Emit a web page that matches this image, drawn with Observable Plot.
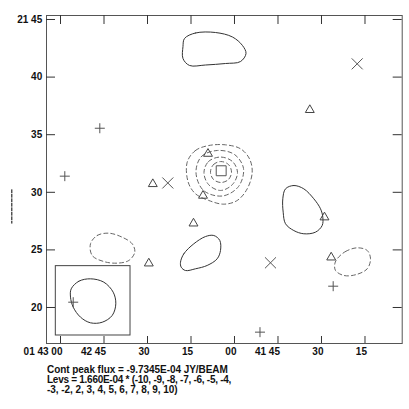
<!DOCTYPE html>
<html>
<head>
<meta charset="utf-8">
<script src="https://cdn.jsdelivr.net/npm/d3@7"></script>
<script src="https://cdn.jsdelivr.net/npm/@observablehq/plot@0.6"></script>
<style>
  html, body { margin: 0; padding: 0; background: #fff; }
  #chart svg { display: block; }
  #caption { font: bold 10px "Liberation Sans", Arial, sans-serif; color: #111; padding-left: 47px; margin-top: 5px; }
  #caption div { height: 10px; line-height: 10px; white-space: pre; }
</style>
</head>
<body>
<div id="chart"></div>
<div id="caption"></div>
<script>
// RA in seconds of time after 01 41 00 ; Dec in arcmin after +21 00
const xTicks = [120, 105, 90, 75, 60, 45, 30, 15];
const xTickLabels = ["01 43 00", "42 45", "30", "15", "00", "41 45", "30", "15"];
const yTicks = [45, 40, 35, 30, 25, 20];
const yTickLabels = ["21 45", "40", "35", "30", "25", "20"];

const plusMarks = [[106.45, 35.56], [118.52, 31.40], [25.97, 21.85], [51.21, 17.86]];
const plusInBeam = [[115.62, 20.46]];
const timesMarks = [[17.69, 41.15], [83.0, 30.81], [47.59, 23.88]];
const triangleMarks = [[34.03, 37.15], [88.17, 30.72], [69.14, 33.35], [70.86, 29.71], [74.14, 27.30], [28.97, 27.83], [26.66, 24.35], [89.55, 23.83]];
const squareMarks = [[64.59, 31.87]];

// positive contours (solid)
const contourTop = [[77.24,43.35],[73.45,43.83],[66.55,43.87],[60.69,43.48],[57.24,42.74],[56.03,42.05],[57.93,41.35],[63.1,41.18],[70,41.05],[75.52,41.01],[77.76,41.61],[77.76,42.66]];
const contourRight = [[42.41,30.30],[39.55,30.59],[36.1,30.30],[32.66,29.44],[30.34,28.57],[29.55,27.84],[29.76,27.12],[32.07,26.54],[36.1,26.4],[39.55,26.68],[42.41,27.27],[43.21,28.27],[43.34,29.44]];
const contourLow = [[78.62,23.93],[77.48,24.66],[74.03,25.53],[70,26.16],[67.14,26.25],[65.07,25.82],[64.83,24.95],[65.97,24.23],[69.41,23.65],[73.45,23.36],[76.9,23.21],[78.38,23.5]];
// negative contours (dashed)
const negLeft = [[109.66,25.53],[107.34,26.25],[103.34,26.45],[98.72,26.10],[95.28,25.53],[94.38,24.80],[96.45,24.08],[100.45,23.85],[105.07,23.99],[109.07,24.51]];
const negRight = [[24.59,24.23],[21.72,24.86],[17.69,25.18],[14.24,24.95],[13.1,24.23],[14.24,23.36],[18.28,22.84],[22.31,22.78],[25.17,23.21],[25.41,23.79]];
const negRing1 = [[76.31,32.61],[73.45,33.63],[68.86,34.06],[63.1,34.12],[57.93,33.78],[54.83,32.91],[53.9,31.74],[55.62,30.30],[59.07,29.29],[63.69,28.97],[68.86,29.29],[73.45,29.87],[75.97,30.88]];
const negRing2 = [[73.28,31.72],[71.38,33.11],[65.86,33.63],[60,33.28],[56.9,32.07],[58.62,30.5],[64.14,29.68],[70.69,30.16]];
const negRing3 = [[70.52,31.72],[68.97,32.67],[64.83,33.06],[60.69,32.67],[58.97,31.72],[60.69,30.68],[64.83,30.16],[68.97,30.68]];
const negRing4 = [[68.28,31.76],[67.24,32.41],[64.66,32.67],[62.07,32.41],[61.03,31.76],[62.07,31.11],[64.66,30.85],[67.24,31.11]];

// beam inset
const beamBox = [[121.62, 95.86, 23.59, 17.57]];
const beamEllipse = [[116.31,21.62],[113.69,22.28],[109.66,22.49],[105.07,22.20],[101.83,21.33],[100.93,20.32],[102.17,19.31],[105.62,18.72],[109.66,18.67],[113.1,19.16],[115.62,20.03],[116.55,20.9]];

// stray dashed segment left of the frame
const strayLine = [[136.79, 30.22], [136.79, 27.32]];

const captionLines = [
  "Cont peak flux = -9.7345E-04 JY/BEAM",
  "Levs = 1.660E-04 * (-10, -9, -8, -7, -6, -5, -4,",
  "-3, -2, 2, 3, 4, 5, 6, 7, 8, 9, 10)"
];
const captionSpacing = ["-0.05px", "-0.27px", "-0.05px"];

const toRows = (pts, id) => pts.map(([x, y]) => ({x, y, id}));
const solidRows = [...toRows(contourTop, "top"), ...toRows(contourRight, "right"), ...toRows(contourLow, "low")];
const dashedRows = [...toRows(negLeft, "nl"), ...toRows(negRight, "nr"), ...toRows(negRing1, "r1"), ...toRows(negRing2, "r2"), ...toRows(negRing3, "r3"), ...toRows(negRing4, "r4")];

const gray = "#555";
const font = "Liberation Sans, Arial, sans-serif";
const W = 409, H = 360, mL = 46, mR = 7.3, mT = 15, mB = 17;
const xDom = [124.83, 2.17], yDom = [16.875, 45.347];
const frameW = W - mL - mR, frameH = H - mT - mB;
const yPerPx = (yDom[1] - yDom[0]) / frameH;
const xPerPx = (xDom[0] - xDom[1]) / frameW;

const pt = (arr) => arr.map(([x, y]) => ({x, y}));

const chart = Plot.plot({
  width: W,
  height: H,
  marginLeft: mL,
  marginRight: mR,
  marginTop: mT,
  marginBottom: mB,
  style: {background: "white", fontFamily: font},
  x: {domain: xDom, axis: null},
  y: {domain: yDom, axis: null},
  marks: [
    Plot.line(dashedRows, {x: "x", y: "y", z: "id", curve: "catmull-rom-closed", stroke: "#666", strokeWidth: 1, strokeDasharray: "4,3"}),
    Plot.line(solidRows, {x: "x", y: "y", z: "id", curve: "catmull-rom-closed", stroke: "#333", strokeWidth: 1}),
    Plot.dot(pt(plusMarks), {x: "x", y: "y", symbol: "plus", r: 3.32, stroke: gray, strokeWidth: 1}),
    Plot.dot(pt(timesMarks), {x: "x", y: "y", symbol: "times", r: 5.07, stroke: gray, strokeWidth: 1}),
    Plot.dot(pt(triangleMarks), {x: "x", y: "y", symbol: "triangle", r: 3.3, stroke: "#444", fill: "none", strokeWidth: 1}),
    Plot.dot(pt(squareMarks), {x: "x", y: "y", symbol: "square", r: 5.6, stroke: gray, fill: "none", strokeWidth: 1}),
    Plot.rect(beamBox, {x1: d => d[0], x2: d => d[1], y1: d => d[2], y2: d => d[3], fill: "white", stroke: "#444", strokeWidth: 1}),
    Plot.line(pt(beamEllipse), {x: "x", y: "y", curve: "catmull-rom-closed", stroke: "#333", strokeWidth: 1}),
    Plot.dot(pt(plusInBeam), {x: "x", y: "y", symbol: "plus", r: 3.32, stroke: gray, strokeWidth: 1}),
    Plot.line(pt(strayLine), {x: "x", y: "y", stroke: "#000", strokeWidth: 1, strokeDasharray: "3,1.5", clip: false}),
    Plot.frame({stroke: gray, strokeWidth: 1}),
    Plot.ruleX(xTicks, {x: d => d, y1: yDom[0], y2: yDom[0] + 7 * yPerPx, stroke: "#333", strokeWidth: 1}),
    Plot.ruleX(xTicks, {x: d => d, y1: yDom[1], y2: yDom[1] - 9 * yPerPx, stroke: "#333", strokeWidth: 1}),
    Plot.ruleY(yTicks, {y: d => d, x1: xDom[0], x2: xDom[0] - 9 * xPerPx, stroke: "#333", strokeWidth: 1}),
    Plot.ruleY(yTicks, {y: d => d, x1: xDom[1], x2: xDom[1] + 9 * xPerPx, stroke: "#333", strokeWidth: 1}),
    Plot.text(xTicks, {x: d => d, text: (d, i) => xTickLabels[i], frameAnchor: "bottom", dy: 8, dx: 2, textAnchor: "end", lineAnchor: "middle", fontSize: 10, fontWeight: "bold", fill: "#111"}),
    Plot.text(yTicks, {y: d => d, text: (d, i) => yTickLabels[i], frameAnchor: "left", dx: -4.3, textAnchor: "end", lineAnchor: "middle", fontSize: 10, fontWeight: "bold", fill: "#111"})
  ]
});
document.getElementById("chart").appendChild(chart);

const cap = document.getElementById("caption");
captionLines.forEach((line, i) => {
  const d = document.createElement("div");
  d.style.letterSpacing = captionSpacing[i];
  d.textContent = line;
  cap.appendChild(d);
});
</script>
</body>
</html>
